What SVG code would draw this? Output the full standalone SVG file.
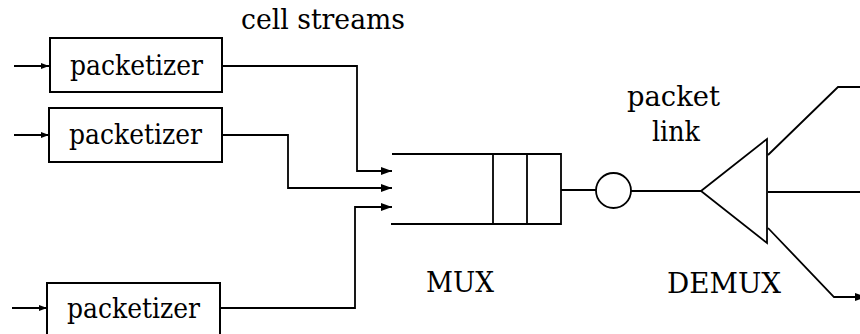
<svg xmlns="http://www.w3.org/2000/svg" width="860" height="334" viewBox="0 0 860 334">
<style>
.ln{fill:none;stroke:#000;stroke-width:1.8}
.bx{fill:#fff;stroke:#000;stroke-width:2}
.t{font-family:'DejaVu Serif','Liberation Serif',serif;font-size:28px;fill:#000}
</style>
<defs>
<marker id="ah" viewBox="0 0 11 8" refX="11" refY="4" markerWidth="11" markerHeight="8" markerUnits="userSpaceOnUse" orient="auto">
<path d="M0,0 L11,4 L0,8 Z" fill="#000"/>
</marker>
<marker id="sh" viewBox="0 0 8 6" refX="8" refY="3" markerWidth="8" markerHeight="6" markerUnits="userSpaceOnUse" orient="auto">
<path d="M0,0 L8,3 L0,6 Z" fill="#000"/>
</marker>
</defs>
<rect width="860" height="334" fill="#fff"/>
<g id="connectors">
<line class="ln" x1="14" y1="66" x2="49" y2="66" marker-end="url(#sh)"/>
<line class="ln" x1="14" y1="135" x2="49" y2="135" marker-end="url(#sh)"/>
<line class="ln" x1="12" y1="308" x2="47" y2="308" marker-end="url(#sh)"/>
<polyline class="ln" points="222,66 357,66 357,171 392,171" marker-end="url(#ah)"/>
<polyline class="ln" points="222,135 288,135 288,188 392,188" marker-end="url(#ah)"/>
<polyline class="ln" points="220,308 355,308 355,207 392,207" marker-end="url(#ah)"/>
<line class="ln" x1="561" y1="190" x2="596" y2="190"/>
<line class="ln" x1="631" y1="191" x2="701" y2="191"/>
<polyline class="ln" points="768,155 838,87 862,87"/>
<line class="ln" x1="768" y1="192" x2="862" y2="192"/>
<polyline class="ln" points="768,228 834,297 866,297" marker-end="url(#ah)"/>
</g>
<g id="packetizer1">
<rect class="bx" x="50" y="38" width="172" height="54"/>
<text class="t" x="70" y="75" textLength="133" lengthAdjust="spacingAndGlyphs">packetizer</text>
</g>
<g id="packetizer2">
<rect class="bx" x="49" y="108" width="173" height="54"/>
<text class="t" x="69" y="144" textLength="133" lengthAdjust="spacingAndGlyphs">packetizer</text>
</g>
<g id="packetizer3">
<rect class="bx" x="47" y="283" width="173" height="56"/>
<text class="t" x="67" y="318" textLength="133" lengthAdjust="spacingAndGlyphs">packetizer</text>
</g>
<g id="mux">
<polyline class="ln" points="392,154 561,154 561,224 391,224"/>
<line class="ln" x1="493" y1="154" x2="493" y2="224"/>
<line class="ln" x1="527" y1="154" x2="527" y2="224"/>
<text class="t" x="426" y="292" textLength="68" lengthAdjust="spacingAndGlyphs">MUX</text>
</g>
<g id="link">
<circle class="ln" cx="613.5" cy="190.5" r="17.5"/>
<text class="t" x="627" y="106" textLength="93" lengthAdjust="spacingAndGlyphs">packet</text>
<text class="t" x="652" y="141" textLength="48" lengthAdjust="spacingAndGlyphs">link</text>
</g>
<g id="demux">
<polygon class="ln" points="701,191 767,139 767,243"/>
<text class="t" x="667" y="293" textLength="114" lengthAdjust="spacingAndGlyphs">DEMUX</text>
</g>
<g id="label">
<text class="t" x="241" y="29" textLength="164" lengthAdjust="spacingAndGlyphs">cell streams</text>
</g>
</svg>
